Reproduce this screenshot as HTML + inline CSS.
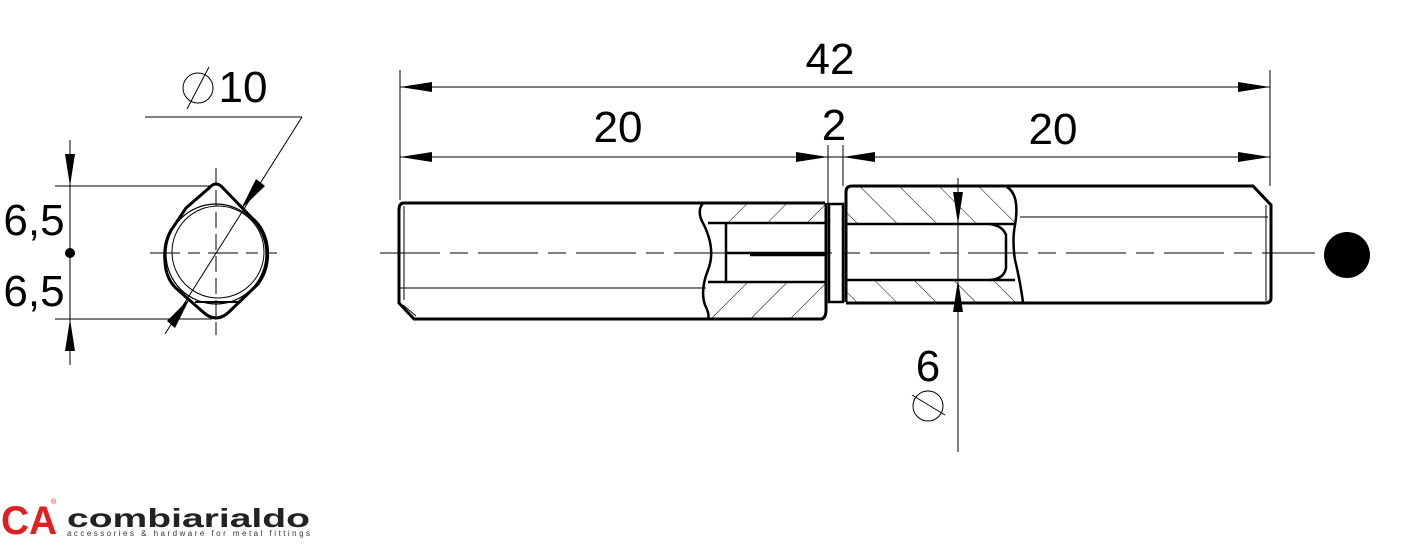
<!DOCTYPE html>
<html><head><meta charset="utf-8"><style>
html,body{margin:0;padding:0;background:#fff;width:1417px;height:544px;overflow:hidden}
svg{display:block}
text{font-family:"Liberation Sans",Arial,sans-serif;fill:#000}
</style></head><body>
<svg width="1417" height="544" viewBox="0 0 1417 544" xmlns="http://www.w3.org/2000/svg">
<defs>
<pattern id="hl" patternUnits="userSpaceOnUse" width="28" height="28" patternTransform="rotate(45)">
<line x1="0" y1="0" x2="0" y2="28" stroke="#000" stroke-width="1"/></pattern>
<pattern id="hr" patternUnits="userSpaceOnUse" width="28" height="28" patternTransform="rotate(-45)">
<line x1="0" y1="0" x2="0" y2="28" stroke="#000" stroke-width="1"/></pattern>
</defs>
<g fill="none" stroke="#000">
<rect x="708" y="204" width="117" height="19" fill="url(#hl)" stroke="none"/>
<rect x="712" y="282" width="113" height="36" fill="url(#hl)" stroke="none"/>
<rect x="846" y="187" width="170" height="37" fill="url(#hr)" stroke="none"/>
<rect x="846" y="280" width="172" height="22" fill="url(#hr)" stroke="none"/>
<line x1="380" y1="253" x2="1315" y2="253" stroke-width="1" stroke-dasharray="60,10,18,10"/>
<line x1="150" y1="253" x2="277" y2="253" stroke-width="1" stroke-dasharray="30,8,12,8"/>
<line x1="216" y1="168" x2="216" y2="335" stroke-width="1" stroke-dasharray="16,6"/>
<path d="M825,203 L404,203 Q399,203 399,210 L399,303 L414,319 L822,319 Q826,317 826,310 L826,203" stroke-width="3"/>
<line x1="404" y1="206" x2="404" y2="300" stroke-width="1"/>
<line x1="403" y1="305" x2="416" y2="316" stroke-width="1"/>
<line x1="400" y1="288" x2="706" y2="288" stroke-width="1"/>
<path d="M703,203 Q696,212 704,225 Q716,250 708,270 Q700,290 705,305 Q710,315 708,319" stroke-width="2.5"/>
<line x1="708" y1="223" x2="826" y2="223" stroke-width="2.5"/>
<line x1="708" y1="282" x2="826" y2="282" stroke-width="2.5"/>
<line x1="726" y1="223" x2="726" y2="282" stroke-width="2.5"/>
<line x1="727" y1="253" x2="826" y2="253" stroke-width="2.5"/>
<line x1="750" y1="255" x2="826" y2="255" stroke-width="2.5"/>
<rect x="829" y="204" width="14" height="98" stroke-width="2.5"/>
<path d="M846,302 L846,192 Q846,186 852,186 L1253,186 L1271,205 L1271,298 Q1271,303 1265,303 L846,303" stroke-width="3"/>
<line x1="1266" y1="205" x2="1266" y2="301" stroke-width="1"/>
<line x1="1020" y1="217" x2="1268" y2="217" stroke-width="1"/>
<path d="M1007,187 Q1020,195 1015,225 Q1012,240 1015,260 Q1020,280 1023,302" stroke-width="2.5"/>
<line x1="846" y1="224" x2="1015" y2="224" stroke-width="2.5"/>
<line x1="846" y1="280" x2="1015" y2="280" stroke-width="2.5"/>
<path d="M990,224 Q1003,226 1006,235 L1006,268 Q1004,279 990,280" stroke-width="2.5"/>
<line x1="400" y1="70" x2="400" y2="200" stroke-width="1"/>
<line x1="1270" y1="70" x2="1270" y2="186" stroke-width="1"/>
<line x1="828" y1="145" x2="828" y2="204" stroke-width="1"/>
<line x1="843" y1="145" x2="843" y2="186" stroke-width="1"/>
<line x1="400" y1="87" x2="1270" y2="87" stroke-width="1"/>
<line x1="400" y1="157" x2="1270" y2="157" stroke-width="1"/>
<line x1="958" y1="178" x2="958" y2="452" stroke-width="1"/>
<circle cx="928" cy="406" r="15" stroke-width="1"/>
<line x1="912" y1="395" x2="945" y2="415" stroke-width="1"/>
<line x1="70" y1="140" x2="70" y2="365" stroke-width="1"/>
<line x1="55" y1="186" x2="212" y2="186" stroke-width="1"/>
<line x1="55" y1="319" x2="212" y2="319" stroke-width="1"/>
<path d="M209,188 Q216,180 223,188 L252,218 Q264,228 267,245 Q270,268 258,284 L229,312 Q216,324 203,312 L178,290 Q166,280 165,262 Q163,240 174,226 L186,208 Z" stroke-width="3"/>
<circle cx="218" cy="252" r="46" stroke-width="1"/>
<circle cx="216" cy="254" r="50" stroke-width="1.2"/>
<line x1="195" y1="302" x2="240" y2="302" stroke-width="2"/>
<line x1="145" y1="117" x2="302" y2="117" stroke-width="1"/>
<line x1="302" y1="117" x2="165" y2="334" stroke-width="1"/>
<circle cx="198" cy="88" r="15" stroke-width="1"/>
<line x1="187" y1="109" x2="209" y2="67" stroke-width="1"/>
</g>
<g fill="#000">
<polygon points="400,87 432,82 432,92"/>
<polygon points="1270,87 1238,82 1238,92"/>
<polygon points="400,157 432,152 432,162"/>
<polygon points="828,157 796,152 796,162"/>
<polygon points="843,157 875,152 875,162"/>
<polygon points="1270,157 1238,152 1238,162"/>
<polygon points="958,224 953,192 963,192"/>
<polygon points="958,280 953,312 963,312"/>
<polygon points="70,186 65,154 75,154"/>
<polygon points="70,319 65,351 75,351"/>
<polygon points="241,209 256,179 265,186"/>
<polygon points="190,298 175,328 167,321"/>
<circle cx="70" cy="253" r="5"/>
<circle cx="1347" cy="255" r="23"/>
</g>
<text x="830" y="74" font-size="44" text-anchor="middle">42</text>
<text x="618" y="142" font-size="44" text-anchor="middle">20</text>
<text x="834" y="140" font-size="44" text-anchor="middle">2</text>
<text x="1053" y="144" font-size="44" text-anchor="middle">20</text>
<text x="928" y="381" font-size="44" text-anchor="middle">6</text>
<text x="243" y="102" font-size="44" text-anchor="middle">10</text>
<text x="34" y="235" font-size="44" text-anchor="middle">6,5</text>
<text x="34" y="306" font-size="44" text-anchor="middle">6,5</text>
<text x="1" y="534" font-size="40" font-weight="bold" style="fill:#e02020" textLength="56" lengthAdjust="spacingAndGlyphs">CA</text>
<text x="51" y="504" font-size="7" style="fill:#e02020">®</text>
<text x="67" y="527" font-size="26" font-weight="bold" style="fill:#222" textLength="243" lengthAdjust="spacingAndGlyphs">combiarialdo</text>
<text x="67" y="536" font-size="8" style="fill:#333" textLength="243" lengthAdjust="spacing">accessories &amp; hardware for metal fittings</text>
</svg>
</body></html>
